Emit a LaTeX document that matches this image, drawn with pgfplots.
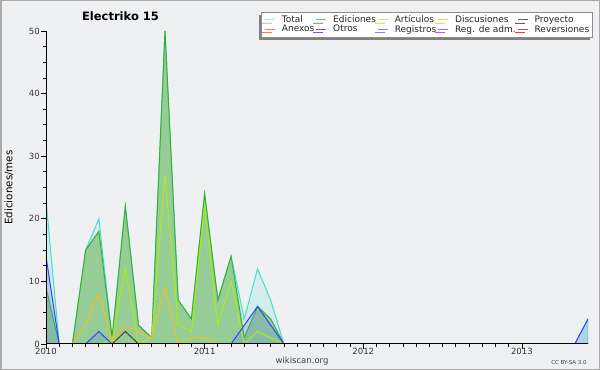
\documentclass[border=0pt]{standalone}
\usepackage{pgfplots}
\pgfplotsset{compat=1.18}
\usepackage{pgfplotstable}
\usepackage{fontspec}
\setmainfont{DejaVu Sans}
\usetikzlibrary{shadows}
\definecolor{bg}{HTML}{EFF0F2}
\definecolor{frame}{HTML}{AAAAAA}
\definecolor{totline}{HTML}{40E0D0}
\definecolor{ediline}{HTML}{33B033}
\definecolor{edifill}{HTML}{96CC96}
\definecolor{artline}{HTML}{AAEE11}
\definecolor{disline}{HTML}{F0C020}
\definecolor{proline}{HTML}{444444}
\definecolor{regline}{HTML}{3344FF}
\definecolor{regfill}{HTML}{6496D2}
\definecolor{lTot}{HTML}{A0E0E0}
\definecolor{lEdi}{HTML}{70C070}
\definecolor{lArt}{HTML}{C8F060}
\definecolor{lDis}{HTML}{FFD060}
\definecolor{lPro}{HTML}{606060}
\definecolor{lAne}{HTML}{F08050}
\definecolor{lOtr}{HTML}{9040E0}
\definecolor{lReg}{HTML}{8080F0}
\definecolor{lRad}{HTML}{D050E0}
\definecolor{lRev}{HTML}{E04040}
\pgfplotsset{layers/mylayers/.define layer set={axis background,axis grid,pre main,main,axis ticks,axis lines,axis tick labels,axis descriptions,axis foreground}{/pgfplots/layers/standard}}
\pgfplotstableread{
i tot edi art dis pro reg
0 23 9 0 0 0 14
1 0 0 0 0 0 0
2 0 0 0 0 0 0
3 15 15 0 3 0 0
4 20 18 0 8 0 2
5 1 1 0.5 0.5 0 0
6 22 22 12 3 2 0
7 3 3 0 2 0 0
8 1 1 1 1 0 0
9 50 50 27 9 0 0
10 7 7 3 0 0 0
11 4 4 2 1 0 0
12 24 24 22 1 0 0
13 7 7 3 0 0 0
14 14 14 10 0 0 0
15 4 1 0 0 0 3
16 12 6 2 0 0 6
17 7 4 1 0 0 3
18 0 0 0 0 0 0
19 0 0 0 0 0 0
20 0 0 0 0 0 0
21 0 0 0 0 0 0
22 0 0 0 0 0 0
23 0 0 0 0 0 0
24 0 0 0 0 0 0
25 0 0 0 0 0 0
26 0 0 0 0 0 0
27 0 0 0 0 0 0
28 0 0 0 0 0 0
29 0 0 0 0 0 0
30 0 0 0 0 0 0
31 0 0 0 0 0 0
32 0 0 0 0 0 0
33 0 0 0 0 0 0
34 0 0 0 0 0 0
35 0 0 0 0 0 0
36 0 0 0 0 0 0
37 0 0 0 0 0 0
38 0 0 0 0 0 0
39 0 0 0 0 0 0
40 0 0 0 0 0 0
41 4 0 0 0 0 4
}\data
\begin{document}
\begin{tikzpicture}
\fill[frame] (0,0) rectangle (600bp,370bp);
\fill[bg] (1.5bp,1.5bp) rectangle (598.5bp,368.5bp);
\begin{axis}[
  set layers=mylayers,
  at={(46bp,26bp)}, anchor=south west,
  scale only axis, width=542bp, height=313bp,
  xmin=0, xmax=41, ymin=0, ymax=50,
  axis x line*=bottom, axis y line*=left,
  axis line style={-, black, line width=1bp},
  xtick={0,12,24,36}, xticklabels={2010,2011,2012,2013},
  minor x tick num=11,
  ytick={0,10,20,30,40,50}, minor y tick num=3,
  tick align=outside, major tick length=5bp, minor tick length=3bp,
  tick style={black, line width=0.8bp},
  ymajorgrids, major grid style={black!20, line width=0.8bp},
  /pgf/number format/assume math mode=true,
  tick label style={font=\fontsize{8.5bp}{9bp}\selectfont, text=black!80},
  yticklabel style={inner sep=1bp},
  xticklabel style={inner sep=0.5bp, yshift=2bp},
  ylabel={Ediciones/mes},
  every axis y label/.style={at={(axis description cs:-0.0683,0.5)}, rotate=90, anchor=center, font=\fontsize{10.3bp}{11bp}\selectfont},
  title={Electriko 15},
  every axis title shift=0pt,
  title style={at={(axis description cs:0.1375,1.048)}, anchor=center, font=\bfseries\fontsize{11.5bp}{12bp}\selectfont},
  legend columns=5, legend cell align=left,
  legend image code/.code={\draw[#1, line width=1bp] (0bp,0bp) -- (10bp,0bp); \path (15bp,0bp);},
  legend style={at={(axis description cs:1.0092,1.0617)}, anchor=north east, draw=black!45, fill=white, line width=0.6bp, inner sep=3bp, column sep=1bp, row sep=0pt, font=\fontsize{9bp}{10bp}\selectfont, nodes={inner sep=0.5bp, text=black!85}, drop shadow={shadow xshift=-3bp, shadow yshift=-3bp, fill=black!50, opacity=1}},
]
\addplot[draw=totline, line width=1bp, fill=totline, fill opacity=0.15, forget plot] table[x=i,y=tot] {\data} \closedcycle;
\addplot[draw=ediline, line width=1bp, fill=edifill, forget plot] table[x=i,y=edi] {\data} \closedcycle;
\addplot[draw=none, fill=regfill, fill opacity=0.3, forget plot] table[x=i,y=reg] {\data} \closedcycle;
\addplot[draw=artline, line width=1bp, forget plot] table[x=i,y=art] {\data};
\addplot[draw=disline, line width=1bp, forget plot] table[x=i,y=dis] {\data};
\addplot[draw=proline, line width=1bp, forget plot] table[x=i,y=pro] {\data};
\addplot[draw=regline, line width=1bp, forget plot] table[x=i,y=reg] {\data};
\addlegendimage{color=lTot}\addlegendentry{Total}
\addlegendimage{color=lEdi}\addlegendentry{Ediciones}
\addlegendimage{color=lArt}\addlegendentry{Artículos}
\addlegendimage{color=lDis}\addlegendentry{Discusiones}
\addlegendimage{color=lPro}\addlegendentry{Proyecto}
\addlegendimage{color=lAne}\addlegendentry{Anexos}
\addlegendimage{color=lOtr}\addlegendentry{Otros}
\addlegendimage{color=lReg}\addlegendentry{Registros}
\addlegendimage{color=lRad}\addlegendentry{Reg. de adm.}
\addlegendimage{color=lRev}\addlegendentry{Reversiones}
\end{axis}
\node[font=\fontsize{8.5bp}{9bp}\selectfont, text=black!75] at (302bp,9bp) {wikiscan.org};
\node[font=\fontsize{5.5bp}{6bp}\selectfont, text=black!75] at (569bp,8bp) {CC BY-SA 3.0};
\end{tikzpicture}
\end{document}
